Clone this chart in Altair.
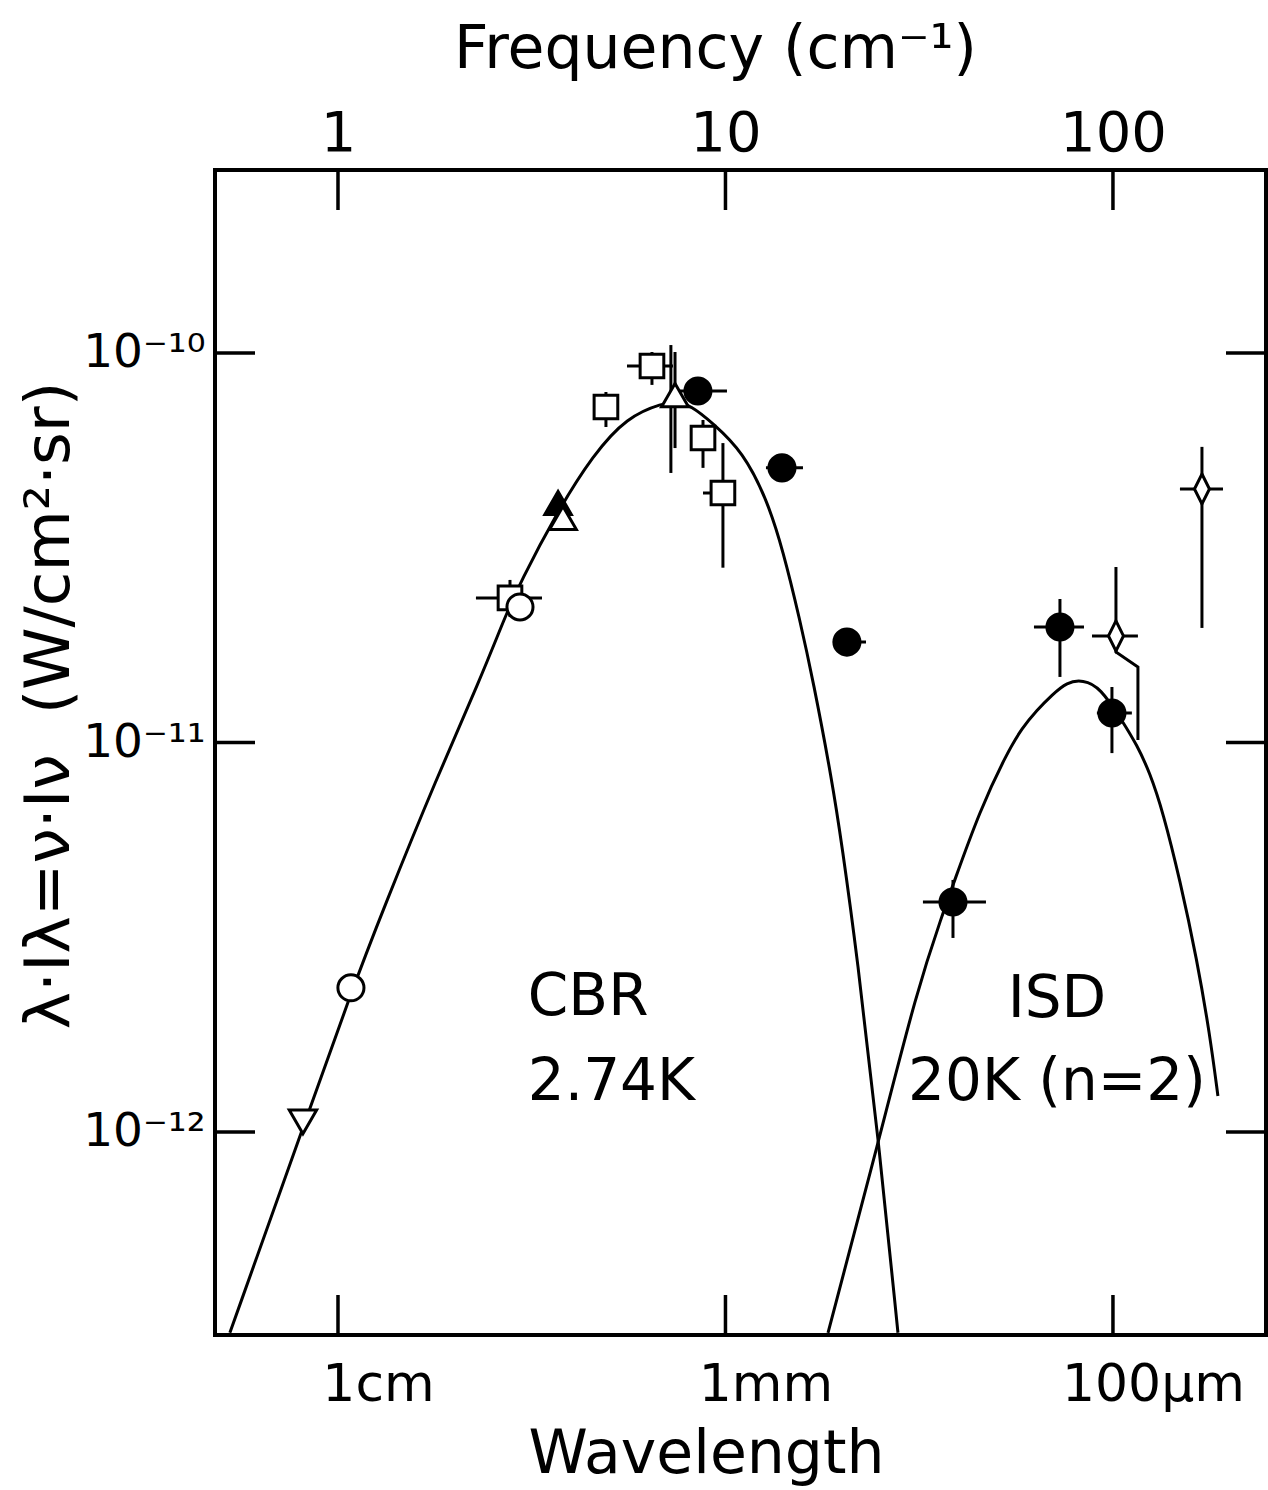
import altair as alt
import pandas as pd

# ---------------- data ----------------
freq_ticks = [1, 10, 100]
freq_tick_labels = ["1", "10", "100"]
wavelength_tick_labels = ["1cm", "1mm", "100μm"]
flux_ticks = [1e-10, 1e-11, 1e-12]
flux_tick_labels = ["10⁻¹⁰", "10⁻¹¹", "10⁻¹²"]
freq_domain = [0.4815, 248.3]
flux_domain = [3.01e-13, 2.95e-10]

# CBR 2.74 K curve
cbr_freq = [0.526, 0.812, 1.080, 1.306, 1.801, 2.325, 2.698, 2.949, 3.675, 4.55,
            5.57, 6.90, 7.50, 8.10, 9.28, 11.10, 12.80, 14.07, 15.57, 16.82,
            18.83, 19.98, 21.85, 24.75, 27.87]
cbr_flux = [3.05e-13, 1.024e-12, 2.275e-12, 3.715e-12, 8.15e-12, 1.447e-11, 2.10e-11,
            2.567e-11, 3.90e-11, 5.47e-11, 6.85e-11, 7.44e-11, 7.485e-11, 7.354e-11,
            6.61e-11, 5.57e-11, 4.20e-11, 3.12e-11, 2.06e-11, 1.447e-11, 8.01e-12,
            5.455e-12, 2.847e-12, 9.82e-13, 3.05e-13]

# ISD 20 K (n=2) curve
isd_freq = [18.39, 24.90, 31.20, 36.42, 38.65, 45.38, 53.27, 58.25, 63.68, 69.6,
            76.08, 83.68, 92.57, 106.1, 115.3, 124.6, 134.6, 148.9, 164.8, 177.9, 186.6]
isd_flux = [3.05e-13, 9.54e-13, 2.315e-12, 3.649e-12, 4.306e-12, 6.71e-12, 9.39e-12,
            1.089e-11, 1.212e-11, 1.324e-11, 1.43e-11, 1.447e-11, 1.388e-11, 1.129e-11,
            9.85e-12, 8.35e-12, 6.63e-12, 4.436e-12, 2.764e-12, 1.774e-12, 1.237e-12]

# measured points
pt_freq = [0.812, 1.080, 2.779, 2.949, 3.698, 3.807, 4.915, 6.461, 7.41, 8.49,
           8.75, 9.85, 13.99, 20.58, 72.98, 101.8, 99.4, 169.7, 38.65]
pt_flux = [1.061e-12, 2.344e-12, 2.35e-11, 2.228e-11, 4.12e-11, 3.77e-11, 7.266e-11,
           9.26e-11, 7.80e-11, 7.99e-11, 6.05e-11, 4.37e-11, 5.07e-11, 1.81e-11,
           1.979e-11, 1.877e-11, 1.19e-11, 4.475e-11, 3.895e-12]
pt_kind = ["tri_down_open", "circle_open", "square_open", "circle_open", "tri_up_filled",
           "tri_up_open", "square_open", "square_open", "tri_up_open", "circle_filled",
           "square_open", "square_open", "circle_filled", "circle_filled", "circle_filled",
           "diamond_open", "circle_filled", "diamond_open", "circle_filled"]

# vertical error bars
verr_freq = [2.779, 4.915, 6.461, 7.41, 7.23, 8.75, 9.85, 72.98, 101.8, 99.4, 169.7, 38.65]
verr_lo = [2.100e-11, 6.456e-11, 8.28e-11, 5.70e-11, 4.92e-11, 5.07e-11, 2.81e-11,
           1.473e-11, 1.877e-11, 9.39e-12, 1.968e-11, 3.148e-12]
verr_hi = [2.614e-11, 7.94e-11, 1.006e-10, 1.006e-10, 1.048e-10, 6.73e-11, 5.87e-11,
           2.335e-11, 2.822e-11, 1.388e-11, 5.74e-11, 4.436e-12]

# horizontal error bars
herr_flux = [2.35e-11, 9.26e-11, 7.99e-11, 4.37e-11, 5.07e-11, 1.81e-11, 1.979e-11,
             1.877e-11, 1.19e-11, 4.475e-11, 3.895e-12]
herr_lo = [2.270, 5.57, 7.63, 8.75, 12.72, 18.94, 62.54, 88.3, 90.9, 148.9, 32.33]
herr_hi = [3.361, 7.32, 10.09, 9.85, 15.85, 23.05, 84.19, 116.0, 111.9, 192.3, 47.02]

# bent lower error bar of the 100 um diamond
bracket_freq = [101.8, 101.8, 116.0, 116.0]
bracket_flux = [1.877e-11, 1.708e-11, 1.562e-11, 1.015e-11]

# annotations
cbr_note_text = ["CBR", "2.74K"]
cbr_note_freq = [3.09, 3.09]
cbr_note_flux = [2.0e-12, 1.21e-12]
isd_note_text = ["ISD", "20K (n=2)"]
isd_note_freq = [71.7, 71.7]
isd_note_flux = [1.97e-12, 1.21e-12]

# ---------------- styles ----------------
FONT = "DejaVu Sans"
marker_styles = {
    "circle_filled": dict(shape="circle", size=680, fill="black"),
    "tri_up_filled": dict(shape="triangle-up", size=700, fill="black"),
    "square_open": dict(shape="square", size=560, fill="white"),
    "circle_open": dict(shape="circle", size=680, fill="white"),
    "tri_up_open": dict(shape="triangle-up", size=720, fill="white"),
    "tri_down_open": dict(shape="triangle-down", size=750, fill="white"),
    "diamond_open": dict(shape="M0,-1L0.5,0L0,1L-0.5,0Z", size=900, fill="white"),
}


def label_expr(values, labels):
    expr = f"'{labels[-1]}'"
    for v, lab in zip(values[-2::-1], labels[-2::-1]):
        expr = f"abs(log(datum.value) - log({v})) < 0.1 ? '{lab}' : ({expr})"
    return expr


xscale = alt.Scale(type="log", domain=freq_domain, nice=False, zero=False)
yscale = alt.Scale(type="log", domain=flux_domain, nice=False, zero=False)

axis_common = dict(ticks=False, tickSize=0, domain=False, grid=False,
                   labelFont=FONT, labelColor="black", labelFlush=False,
                   labelOverlap=False, labelLimit=600, titleLimit=1200,
                   titleFont=FONT, titleColor="black", titleFontWeight="normal")

bottom_axis = alt.Axis(orient="bottom", values=freq_ticks,
                       labelExpr=label_expr(freq_ticks, wavelength_tick_labels),
                       labelFontSize=52, labelPadding=65, labelBaseline="alphabetic",
                       labelAlign="center", labelOffset=40,
                       title="Wavelength", titleFontSize=60, titleX=491, titleY=137,
                       titleAlign="center", titleBaseline="alphabetic", **axis_common)
top_axis = alt.Axis(orient="top", values=freq_ticks,
                    labelExpr=label_expr(freq_ticks, freq_tick_labels),
                    labelFontSize=56, labelPadding=20, labelBaseline="alphabetic",
                    labelAlign="center",
                    title="Frequency (cm⁻¹)", titleFontSize=60, titleX=500, titleY=-103,
                    titleAlign="center", titleBaseline="alphabetic", **axis_common)
left_axis = alt.Axis(orient="left", values=flux_ticks,
                     labelExpr=label_expr(flux_ticks, flux_tick_labels),
                     labelFontSize=47, labelPadding=10, labelBaseline="middle",
                     labelAlign="right",
                     title="λ·Iλ=ν·Iν\u00a0\u00a0(W/cm²·sr)", titleFontSize=63,
                     titleAngle=270, titleX=-166, titleY=535, titleAlign="center",
                     titleBaseline="middle", **axis_common)


def X(field, axis=None, **kw):
    return alt.X(field, type="quantitative", scale=xscale, axis=axis, **kw)


def Y(field, axis=None, **kw):
    return alt.Y(field, type="quantitative", scale=yscale, axis=axis, **kw)


# frame ticks (inward, clipped to plot area)
df_top = pd.DataFrame({"freq": freq_ticks, "flux": [flux_domain[1]] * len(freq_ticks)})
df_bot = pd.DataFrame({"freq": freq_ticks, "flux": [flux_domain[0]] * len(freq_ticks)})
df_left = pd.DataFrame({"freq": [freq_domain[0]] * len(flux_ticks), "flux": flux_ticks})
df_right = pd.DataFrame({"freq": [freq_domain[1]] * len(flux_ticks), "flux": flux_ticks})

tick_v = dict(orient="vertical", size=80, thickness=3.5, color="black", opacity=1, clip=True)
tick_h = dict(orient="horizontal", size=80, thickness=3.5, color="black", opacity=1, clip=True)

top_ticks = alt.Chart(df_top).mark_tick(**tick_v).encode(x=X("freq", top_axis), y=Y("flux"))
bot_ticks = alt.Chart(df_bot).mark_tick(**tick_v).encode(x=X("freq", bottom_axis), y=Y("flux"))
left_ticks = alt.Chart(df_left).mark_tick(**tick_h).encode(x=X("freq"), y=Y("flux", left_axis))
right_ticks = alt.Chart(df_right).mark_tick(**tick_h).encode(x=X("freq"), y=Y("flux"))

# curves
line_style = dict(color="black", strokeWidth=3, clip=True, interpolate="basis")
cbr_line = alt.Chart(pd.DataFrame({"freq": cbr_freq, "flux": cbr_flux})).mark_line(
    **line_style).encode(x=X("freq"), y=Y("flux"))
isd_line = alt.Chart(pd.DataFrame({"freq": isd_freq, "flux": isd_flux})).mark_line(
    **line_style).encode(x=X("freq"), y=Y("flux"))

# error bars
rule_style = dict(color="black", strokeWidth=3, clip=True)
verr = alt.Chart(pd.DataFrame({"freq": verr_freq, "lo": verr_lo, "hi": verr_hi})).mark_rule(
    **rule_style).encode(x=X("freq"), y=Y("lo"), y2="hi")
herr = alt.Chart(pd.DataFrame({"flux": herr_flux, "lo": herr_lo, "hi": herr_hi})).mark_rule(
    **rule_style).encode(x=X("lo"), x2="hi", y=Y("flux"))
bracket = alt.Chart(pd.DataFrame({"freq": bracket_freq, "flux": bracket_flux,
                                  "i": list(range(len(bracket_freq)))})).mark_line(
    color="black", strokeWidth=3, clip=True).encode(
    x=X("freq"), y=Y("flux"), order=alt.Order("i:Q"))

# markers
points = pd.DataFrame({"freq": pt_freq, "flux": pt_flux, "kind": pt_kind})
marker_layers = []
for kind, st in marker_styles.items():
    sub = points[points["kind"] == kind]
    if len(sub) == 0:
        continue
    marker_layers.append(
        alt.Chart(sub).mark_point(shape=st["shape"], size=st["size"], filled=True,
                                  fill=st["fill"], stroke="black", strokeWidth=3,
                                  opacity=1).encode(x=X("freq"), y=Y("flux"))
    )

# annotations
text_style = dict(font=FONT, fontSize=58, color="black", baseline="alphabetic")
cbr_text = alt.Chart(pd.DataFrame({"freq": cbr_note_freq, "flux": cbr_note_flux,
                                   "t": cbr_note_text})).mark_text(
    align="left", **text_style).encode(x=X("freq"), y=Y("flux"), text="t:N")
isd_text = alt.Chart(pd.DataFrame({"freq": isd_note_freq, "flux": isd_note_flux,
                                   "t": isd_note_text})).mark_text(
    align="center", **text_style).encode(x=X("freq"), y=Y("flux"), text="t:N")

chart = alt.layer(
    top_ticks, bot_ticks, left_ticks, right_ticks,
    cbr_line, isd_line, verr, herr, bracket,
    *marker_layers, cbr_text, isd_text,
).resolve_axis(x="independent", y="independent").properties(
    width=1051, height=1165,
    autosize=alt.AutoSizeParams(type="none"),
    padding={"left": 215, "top": 170, "right": 2, "bottom": 155},
    background="white",
).configure_view(stroke="black", strokeWidth=4)

chart.save("out.html", embed_options={"renderer": "svg", "actions": False})
